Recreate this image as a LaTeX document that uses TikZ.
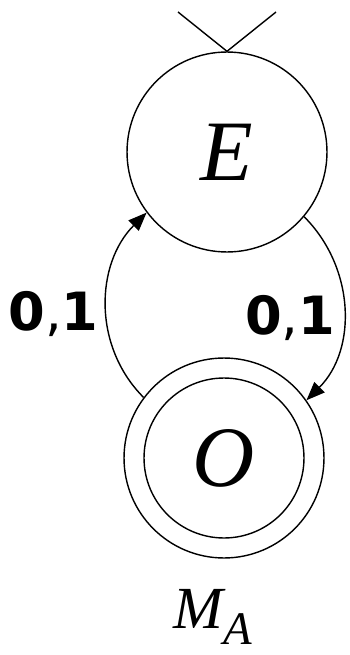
\documentclass[tikz,border=0pt]{standalone}
\usepackage{fontspec}
\setmainfont{Liberation Serif}
\newfontfamily\digitfont{DejaVu Sans}
\usetikzlibrary{arrows.meta}

\begin{document}
\begin{tikzpicture}[
  x=0.02cm, y=-0.02cm,
  every path/.style={line width=0.8pt},
  state/.style={circle,draw,inner sep=0pt,minimum size=4cm,
    font=\fontsize{49}{49}\selectfont\itshape},
  trans/.style={-{Triangle[length=0.37cm,width=0.29cm]}},
  edgelabel/.style={font=\digitfont\fontsize{30}{30}\selectfont,inner sep=0.15cm,yshift=-0.19cm}
]
  \useasboundingbox (0,0) rectangle (349,655);

  % states
  \node[state] (E) at (227,152) {E};
  \node[state] (O) at (224,458) {O};
  \draw (O) circle[radius=1.6cm];

  % start marker
  \coordinate (initL) at (178,12);
  \coordinate (initR) at (276,12);
  \draw (initL) -- (E.north) -- (initR);

  % transitions
  \draw[trans] (O.143) to[out=135,in=225]
    node[midway,left,edgelabel]{{\bfseries 0},{\bfseries 1}} (E.217);
  \draw[trans] (E.320) to[out=-45,in=45]
    node[midway,left,edgelabel]{{\bfseries 0},{\bfseries 1}} (O.35);

  % machine name
  \node[anchor=base west,inner sep=0pt] (name) at (173,628)
    {\fontsize{34}{34}\selectfont\itshape M\raisebox{-0.32cm}{\fontsize{26.6}{26.6}\selectfont A}};
\end{tikzpicture}
\end{document}
